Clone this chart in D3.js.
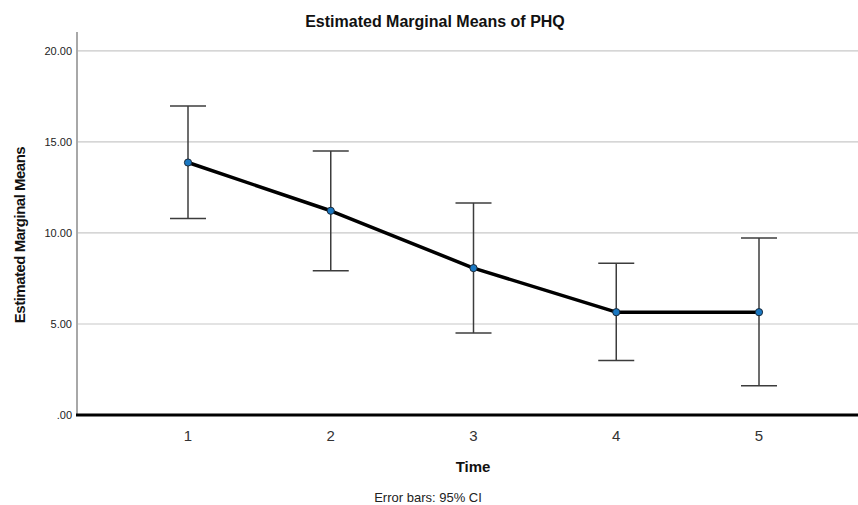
<!DOCTYPE html>
<html>
<head>
<meta charset="utf-8">
<script src="https://cdn.jsdelivr.net/npm/d3@7/dist/d3.min.js"></script>
<style>
  body { margin: 0; background: #fff; }
  text { font-family: "Liberation Sans", Arial, sans-serif; }
</style>
</head>
<body>
<script>
// data
var times = [1, 2, 3, 4, 5];
var means = [13.87, 11.22, 8.07, 5.65, 5.65];
var lower = [10.80, 7.92, 4.50, 3.00, 1.60];
var upper = [16.98, 14.50, 11.65, 8.33, 9.73];
var yTicks = [0, 5, 10, 15, 20];
var yTickLabels = [".00", "5.00", "10.00", "15.00", "20.00"];

(function() {
    var W = 858, H = 505;
    var plotL = 77, plotR = 858, plotT = 32, plotB = 415;

    var svg = d3.select("body").append("svg")
        .attr("width", W)
        .attr("height", H);

    var x = d3.scaleLinear().domain([1, 5]).range([188, 759]);
    var y = d3.scaleLinear().domain([0, 21.04]).range([plotB, plotT]);

    // grid lines
    svg.append("g").selectAll("line")
        .data(yTicks.slice(1))
        .enter().append("line")
        .attr("x1", plotL).attr("x2", plotR)
        .attr("y1", function(d){ return y(d); })
        .attr("y2", function(d){ return y(d); })
        .attr("stroke", "#c8c8c8")
        .attr("stroke-width", 1.2);

    // y axis line
    svg.append("line")
        .attr("x1", plotL).attr("x2", plotL)
        .attr("y1", plotT).attr("y2", plotB)
        .attr("stroke", "#a8a8a8")
        .attr("stroke-width", 2);

    // y tick labels
    svg.append("g").selectAll("text")
        .data(yTicks)
        .enter().append("text")
        .attr("x", plotL - 5)
        .attr("y", function(d){ return y(d) + 4; })
        .attr("text-anchor", "end")
        .attr("font-size", "11px")
        .attr("fill", "#222")
        .text(function(d, i){ return yTickLabels[i]; });

    // x tick labels
    svg.append("g").selectAll("text")
        .data(times)
        .enter().append("text")
        .attr("x", function(d){ return x(d); })
        .attr("y", 441)
        .attr("text-anchor", "middle")
        .attr("font-size", "15px")
        .attr("fill", "#333")
        .text(function(d){ return d; });

    // error bars
    var capW = 18;
    var eb = svg.append("g")
        .attr("stroke", "#3c3c3c")
        .attr("stroke-width", 1.5);

    eb.selectAll(".v").data(times).enter().append("line")
        .attr("x1", function(d){ return x(d); })
        .attr("x2", function(d){ return x(d); })
        .attr("y1", function(d, i){ return y(lower[i]); })
        .attr("y2", function(d, i){ return y(upper[i]); });

    eb.selectAll(".u").data(times).enter().append("line")
        .attr("x1", function(d){ return x(d) - capW; })
        .attr("x2", function(d){ return x(d) + capW; })
        .attr("y1", function(d, i){ return y(upper[i]); })
        .attr("y2", function(d, i){ return y(upper[i]); });

    eb.selectAll(".l").data(times).enter().append("line")
        .attr("x1", function(d){ return x(d) - capW; })
        .attr("x2", function(d){ return x(d) + capW; })
        .attr("y1", function(d, i){ return y(lower[i]); })
        .attr("y2", function(d, i){ return y(lower[i]); });

    // mean line
    var line = d3.line()
        .x(function(d){ return x(d); })
        .y(function(d, i){ return y(means[i]); });

    svg.append("path")
        .datum(times)
        .attr("d", line)
        .attr("fill", "none")
        .attr("stroke", "#000")
        .attr("stroke-width", 3.5)
        .attr("stroke-linejoin", "round");

    // points
    svg.append("g").selectAll("circle")
        .data(times)
        .enter().append("circle")
        .attr("cx", function(d){ return x(d); })
        .attr("cy", function(d, i){ return y(means[i]); })
        .attr("r", 3.6)
        .attr("fill", "#1a78c2")
        .attr("stroke", "#1b2a3a")
        .attr("stroke-width", 1);

    // baseline
    svg.append("line")
        .attr("x1", plotL - 1).attr("x2", plotR)
        .attr("y1", plotB).attr("y2", plotB)
        .attr("stroke", "#000")
        .attr("stroke-width", 3);

    // titles
    svg.append("text")
        .attr("x", 435).attr("y", 27)
        .attr("text-anchor", "middle")
        .attr("font-size", "16px")
        .attr("font-weight", "bold")
        .attr("fill", "#111")
        .text("Estimated Marginal Means of PHQ");

    svg.append("text")
        .attr("transform", "translate(25,235) rotate(-90)")
        .attr("text-anchor", "middle")
        .attr("font-size", "15px")
        .attr("font-weight", "bold")
        .attr("letter-spacing", "-0.5px")
        .attr("fill", "#111")
        .text("Estimated Marginal Means");

    svg.append("text")
        .attr("x", 473).attr("y", 472)
        .attr("text-anchor", "middle")
        .attr("font-size", "15px")
        .attr("font-weight", "bold")
        .attr("fill", "#111")
        .text("Time");

    svg.append("text")
        .attr("x", 428).attr("y", 502)
        .attr("text-anchor", "middle")
        .attr("font-size", "13px")
        .attr("fill", "#222")
        .text("Error bars: 95% CI");
})();
</script>
</body>
</html>
